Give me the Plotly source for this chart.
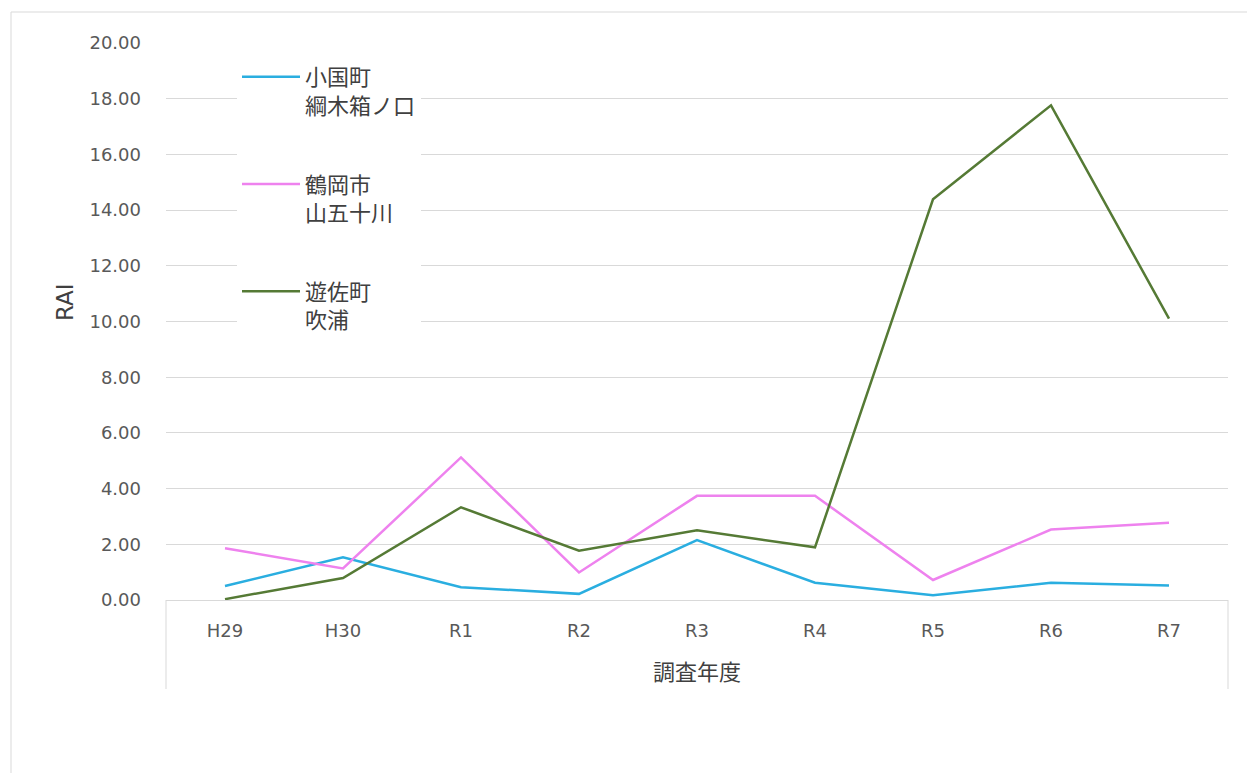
import plotly.graph_objects as go

years = ["H29", "H30", "R1", "R2", "R3", "R4", "R5", "R6", "R7"]
oguni = [0.50, 1.53, 0.46, 0.22, 2.15, 0.62, 0.17, 0.62, 0.52]
tsuruoka = [1.86, 1.13, 5.12, 0.99, 3.74, 3.74, 0.72, 2.53, 2.77]
yuza = [0.03, 0.79, 3.33, 1.77, 2.50, 1.89, 14.39, 17.76, 10.10]

series_names = ["小国町<br>綱木箱ノ口", "鶴岡市<br>山五十川", "遊佐町<br>吹浦"]
series_colors = ["#2AAEE0", "#EE82EE", "#557A35"]
y_ticks = [0, 2, 4, 6, 8, 10, 12, 14, 16, 18, 20]

fig = go.Figure()
for i, (name, vals, col) in enumerate(zip(series_names, [oguni, tsuruoka, yuza], series_colors)):
    fig.add_trace(go.Scatter(
        x=years, y=vals, mode="lines", name=name, legendgroup=f"g{i}",
        line=dict(color=col, width=2.5),
    ))

FONT = "DejaVu Sans, Noto Sans CJK JP"
JP = "Noto Sans CJK JP"

fig.update_layout(
    width=1247, height=773,
    margin=dict(l=166, r=19, t=43, b=173, autoexpand=False),
    paper_bgcolor="white", plot_bgcolor="white",
    showlegend=True,
    legend=dict(
        x=(237 - 166) / 1062, y=(600 - 56) / 557, xanchor="left", yanchor="top",
        bgcolor="white", font=dict(family=JP, size=22, color="#404040"),
        valign="top", tracegroupgap=47, itemwidth=58,
        traceorder="grouped",
    ),
    xaxis=dict(
        type="category", range=[-0.5, 8.5], showgrid=False, zeroline=False,
        showline=True, linecolor="#d9d9d9", linewidth=1,
        ticks="", ticklabelstandoff=14,
        tickfont=dict(family=FONT, size=18, color="#595959"),
    ),
    yaxis=dict(
        range=[0, 20], tickvals=y_ticks, tickformat=".2f",
        showgrid=True, gridcolor="#d9d9d9", gridwidth=1,
        zeroline=False, showline=False, ticks="", ticklabelstandoff=24,
        tickfont=dict(family=FONT, size=18, color="#595959"),
    ),
    annotations=[
        dict(text="RAI", x=(65 - 166) / 1062, y=(600 - 302) / 557, xref="paper", yref="paper",
             textangle=-90, showarrow=False, font=dict(family=FONT, size=23, color="#404040"),
             xanchor="center", yanchor="middle"),
        dict(text="調査年度", x=0.5, y=(600 - 670) / 557, xref="paper", yref="paper",
             showarrow=False, font=dict(family=JP, size=22, color="#404040"),
             xanchor="center", yanchor="middle"),
    ],
    shapes=[
        dict(type="rect", xref="paper", yref="paper",
             x0=(11 - 166) / 1062, x1=1.1, y0=-0.5, y1=(600 - 12) / 557,
             line=dict(color="#d9d9d9", width=1), layer="below"),
        dict(type="line", xref="x domain", yref="paper", x0=0, x1=0, y0=0, y1=-(89 / 557),
             line=dict(color="#d9d9d9", width=1)),
        dict(type="line", xref="x domain", yref="paper", x0=1, x1=1, y0=0, y1=-(89 / 557),
             line=dict(color="#d9d9d9", width=1)),
    ],
)

fig.write_html("out.html")
